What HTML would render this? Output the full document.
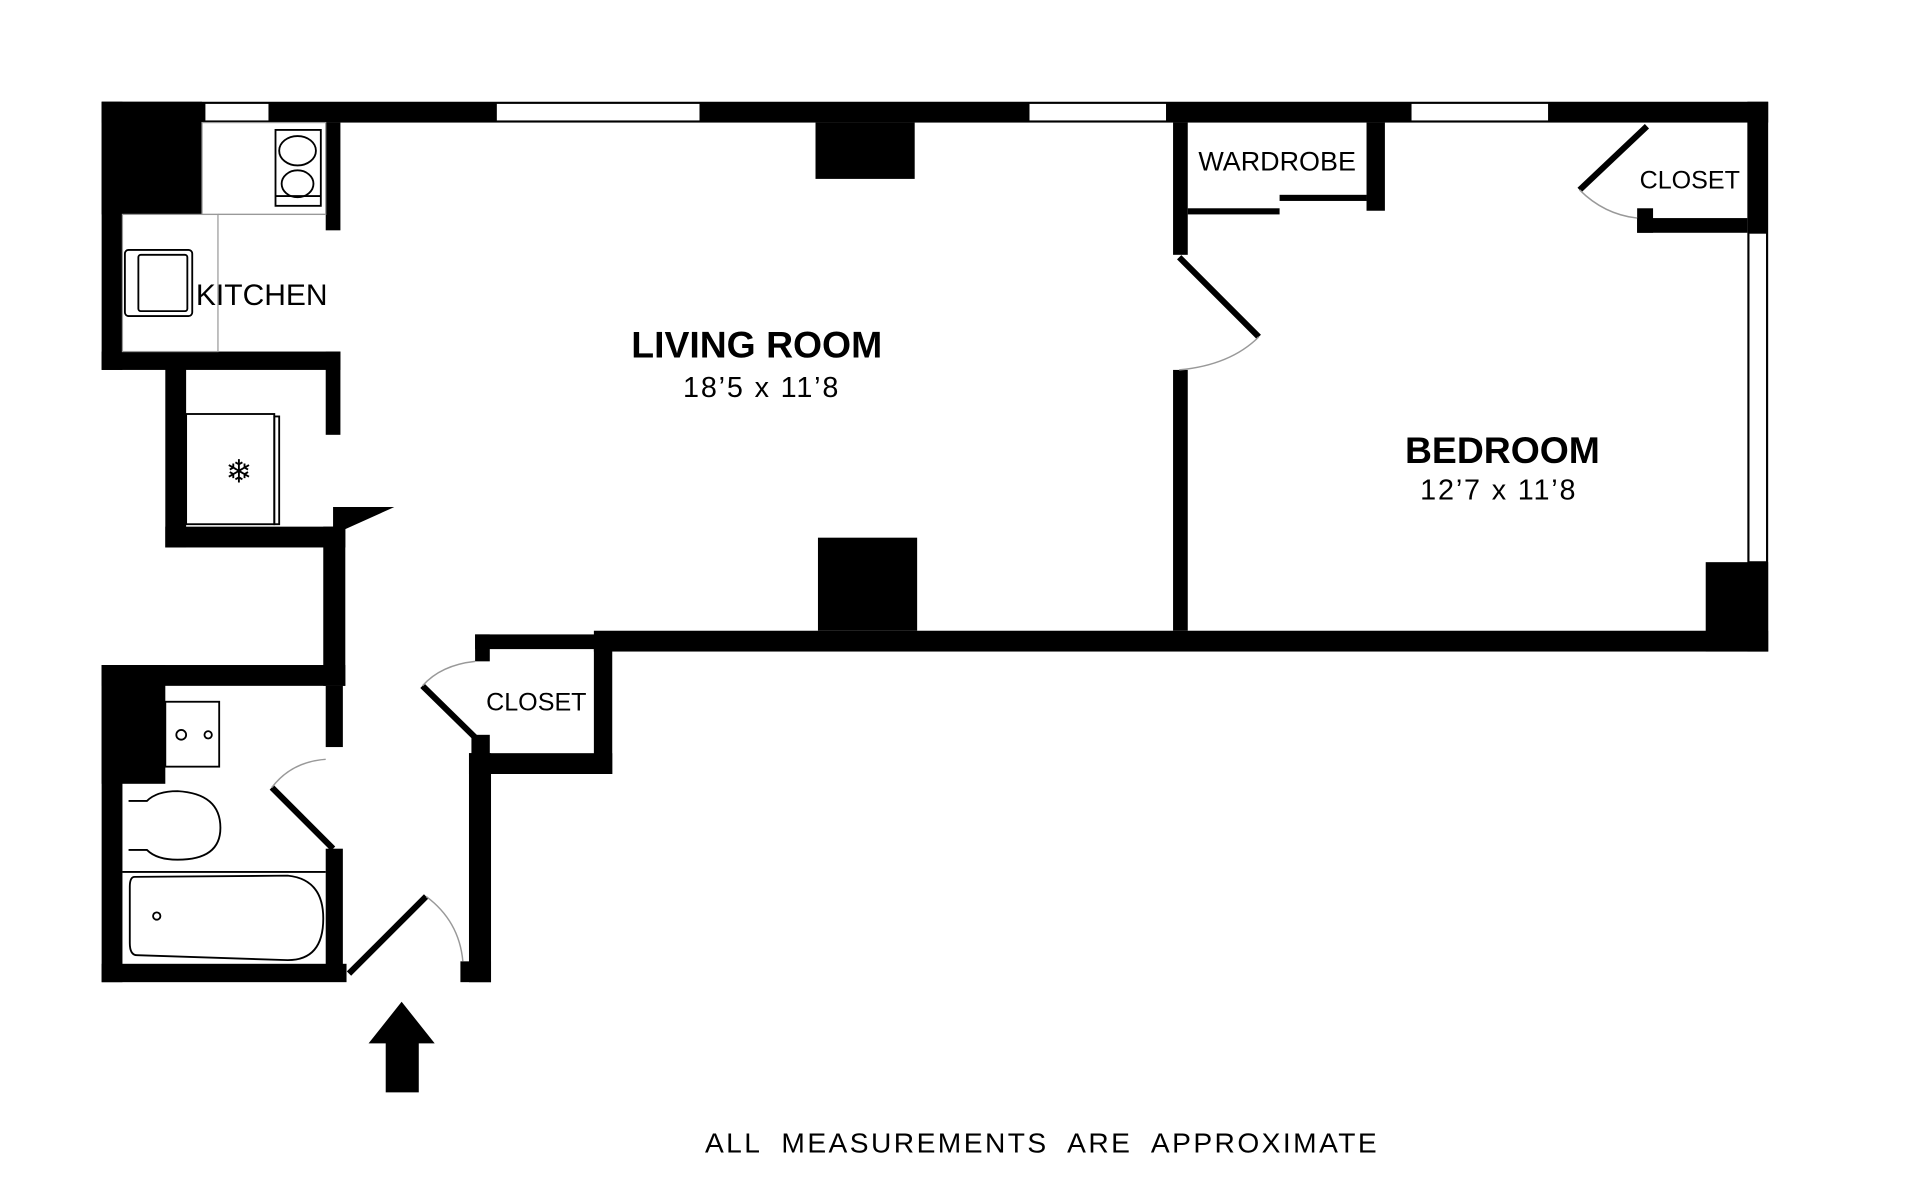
<!DOCTYPE html>
<html><head><style>html,body{margin:0;padding:0;background:#fff}svg{display:block}</style></head>
<body>
<svg width="1920" height="1188" viewBox="0 0 1568 970" xmlns="http://www.w3.org/2000/svg" font-family="Liberation Sans, sans-serif">
<rect width="1568" height="970" fill="#fff"/>
<g fill="#000">
<rect x="83" y="83" width="1361" height="17"/>
<rect x="1427" y="83" width="17" height="449"/>
<rect x="1393" y="459" width="51" height="73"/>
<rect x="485" y="515" width="959" height="17"/>
<rect x="83" y="83" width="82" height="92"/>
<rect x="83" y="83" width="17" height="219"/>
<rect x="83" y="287" width="195" height="15"/>
<rect x="266" y="100" width="12" height="88"/>
<rect x="266" y="287" width="12" height="68"/>
<rect x="135" y="287" width="17" height="160"/>
<rect x="135" y="430" width="147" height="17"/>
<rect x="264" y="430" width="18" height="130"/>
<polygon points="272,414 322,414 282,432 272,432"/>
<rect x="83" y="543" width="199" height="17"/>
<rect x="83" y="543" width="17" height="259"/>
<rect x="83" y="543" width="52" height="97"/>
<rect x="83" y="787" width="200" height="15"/>
<rect x="266" y="560" width="14" height="50"/>
<rect x="266" y="693" width="14" height="97"/>
<rect x="383" y="615" width="18" height="187"/>
<rect x="376" y="785" width="25" height="17"/>
<rect x="388" y="518" width="112" height="12"/>
<rect x="388" y="518" width="12" height="22"/>
<rect x="485" y="518" width="15" height="114"/>
<rect x="383" y="615" width="117" height="17"/>
<rect x="385" y="600" width="15" height="32"/>
<rect x="666" y="100" width="81" height="46"/>
<rect x="668" y="439" width="81" height="76"/>
<rect x="958" y="100" width="12" height="108"/>
<rect x="958" y="302" width="12" height="213"/>
<rect x="1116" y="100" width="15" height="72"/>
<rect x="970" y="170" width="75" height="5"/>
<rect x="1045" y="159" width="71" height="5"/>
<rect x="1337" y="178" width="90" height="12"/>
<rect x="1337" y="170" width="13" height="20"/>
<polygon points="301,852 328,818 355,852"/>
<rect x="315" y="851" width="27" height="41"/>
</g>
<g fill="#fff" stroke="#000" stroke-width="1.5">
<rect x="167" y="84" width="53" height="15"/>
<rect x="405" y="84" width="167" height="15"/>
<rect x="840" y="84" width="113" height="15"/>
<rect x="1152" y="84" width="113" height="15"/>
<rect x="1428" y="190" width="15" height="269"/>
</g>
<g stroke="#000" stroke-width="5" fill="none">
<line x1="963" y1="210" x2="1028" y2="275"/>
<line x1="1290" y1="155" x2="1345" y2="103"/>
<line x1="345" y1="560" x2="393" y2="607"/>
<line x1="222" y1="643" x2="272" y2="693"/>
<line x1="285" y1="795" x2="348" y2="732"/>
</g>
<g stroke="#999" stroke-width="1.2" fill="none">
<path d="M1028,275 Q1005,298 963,302"/>
<path d="M1290,155 Q1310,175 1337,178"/>
<path d="M345,560 Q360,543 388,540"/>
<path d="M222,643 Q238,622 266,620"/>
<path d="M348,732 Q375,752 378,785"/>
</g>
<g fill="none" stroke="#999" stroke-width="1">
<rect x="165" y="100" width="101" height="75"/>
<rect x="100" y="175" width="78" height="112"/>
<line x1="178" y1="175" x2="266" y2="175"/>
</g>
<g fill="none" stroke="#000" stroke-width="1.5">
<rect x="225" y="106" width="37" height="62"/>
<ellipse cx="243" cy="123" rx="15" ry="12"/>
<ellipse cx="243" cy="150" rx="13" ry="11"/>
<line x1="225" y1="160" x2="262" y2="160"/>
<rect x="102" y="204" width="55" height="54" rx="3"/>
<rect x="113" y="208" width="40" height="46" rx="2"/>
<rect x="152" y="338" width="72" height="90"/>
<rect x="224" y="340" width="4" height="88"/>
<rect x="135" y="573" width="44" height="53"/>
<circle cx="148" cy="600" r="4"/>
<circle cx="170" cy="600" r="3"/>
<path d="M105,654 L120,654 Q128,646 145,646 Q180,648 180,676 Q180,702 145,702 Q128,702 120,694 L105,694"/>
<line x1="100" y1="712" x2="266" y2="712"/>
<path d="M110,716 L235,715 Q264,718 264,750 Q264,784 235,784 L112,780 Q106,780 106,770 L106,724 Q106,716 110,716Z"/>
<circle cx="128" cy="748" r="3"/>
</g>
<text x="195" y="394" font-size="26" text-anchor="middle">❄</text>
<g fill="#000">
<text x="160" y="249" font-size="24.5">KITCHEN</text>
<text x="618" y="292" font-size="30.5" font-weight="bold" text-anchor="middle">LIVING ROOM</text>
<text x="622" y="324" font-size="23.5" text-anchor="middle" letter-spacing="1.5">18’5  x  11’8</text>
<text x="1227" y="378" font-size="30.5" font-weight="bold" text-anchor="middle">BEDROOM</text>
<text x="1224" y="408" font-size="23.5" text-anchor="middle" letter-spacing="1.5">12’7  x  11’8</text>
<text x="1043" y="139" font-size="22" text-anchor="middle">WARDROBE</text>
<text x="1380" y="154" font-size="20.5" text-anchor="middle">CLOSET</text>
<text x="438" y="580" font-size="20.5" text-anchor="middle">CLOSET</text>
<text x="851" y="941" font-size="23" text-anchor="middle" letter-spacing="2" word-spacing="8">ALL MEASUREMENTS ARE APPROXIMATE</text>
</g>
</svg>
</body></html>
